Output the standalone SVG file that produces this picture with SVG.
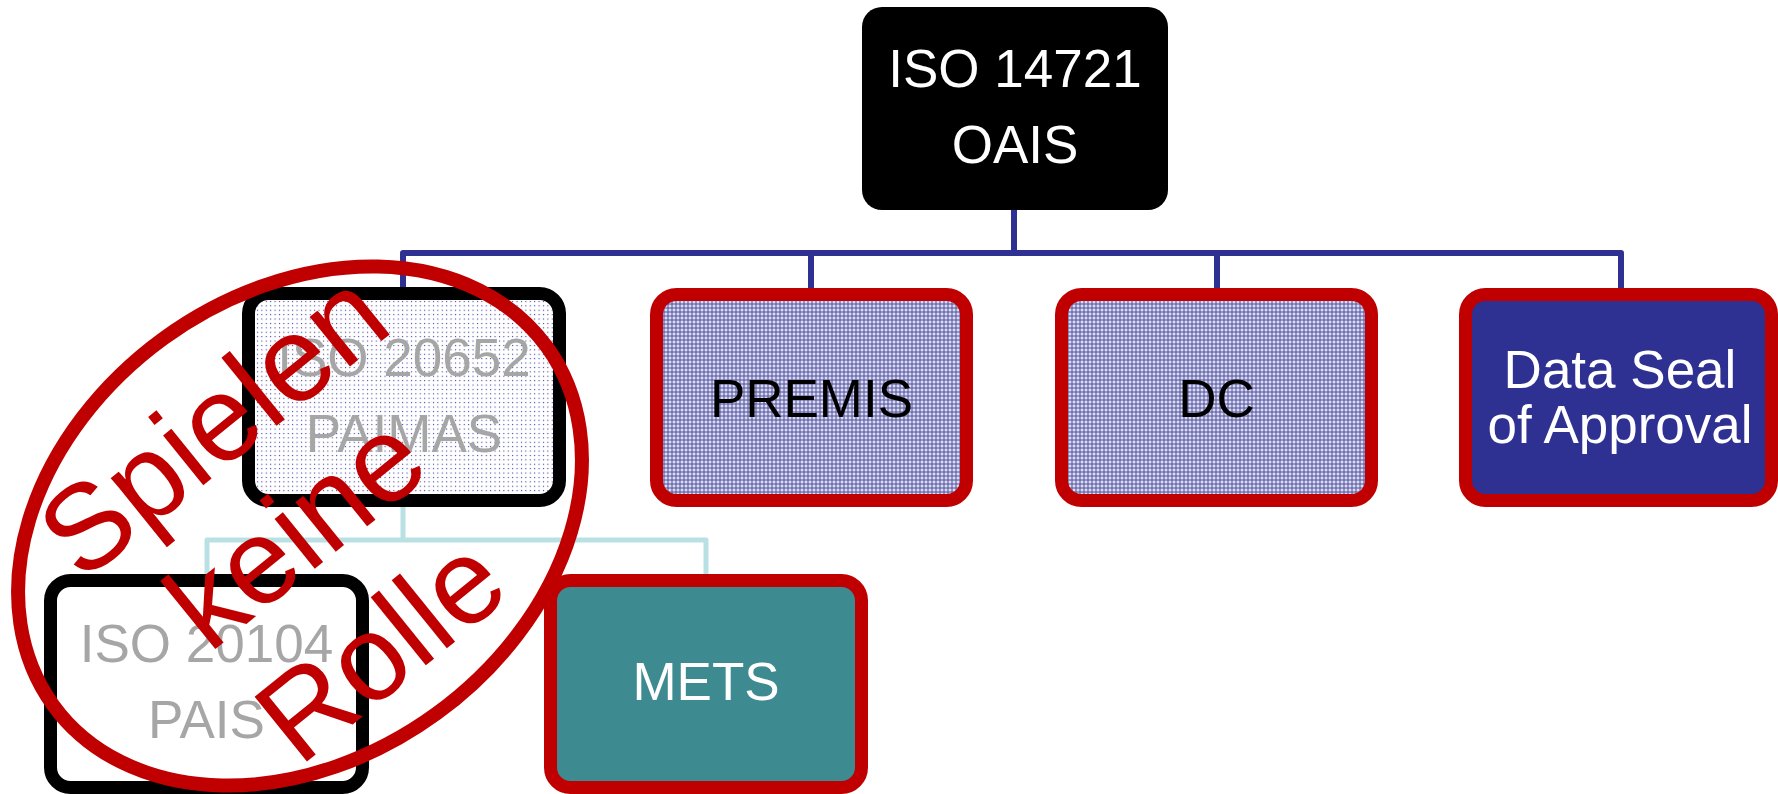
<svg xmlns="http://www.w3.org/2000/svg" width="1778" height="794" viewBox="0 0 1778 794">
<style>
text{font-family:"Liberation Sans",Arial,sans-serif;text-anchor:middle}
.lbl{font-size:53px}
.w{fill:#ffffff}
.k{fill:#000000}
.g{fill:#a6a6a6}
.box{stroke-width:13}
.blk{stroke:#000000}
.red{stroke:#c00000}
.bus{fill:none;stroke:#2e3192;stroke-width:6;stroke-linejoin:round}
.sub{fill:none;stroke:#b9e0e3;stroke-width:5;stroke-linejoin:round}
.stamp{fill:#c00000;font-size:121px}
</style>
<defs>
<pattern id="dots" width="4.4" height="4.4" patternUnits="userSpaceOnUse">
<rect width="4.4" height="4.4" fill="#ffffff"/>
<rect x="1.7" y="1.7" width="1.1" height="1.1" fill="#3a3aa0"/>
</pattern>
<pattern id="grid" width="4" height="4" patternUnits="userSpaceOnUse">
<rect width="4" height="4" fill="#7272b6"/>
<rect x="0.5" y="1.5" width="3" height="1" fill="#ffffff"/>
<rect x="1.5" y="0.5" width="1" height="3" fill="#ffffff"/>
</pattern>
</defs>
<g id="connectors">
<path class="bus" d="M1014 210V253M403 288V253H1621V288M811 253V288M1217 253V288"/>
<path class="sub" d="M403 507V540M207 574V540H706V574"/>
</g>
<g id="n-oais">
<rect x="862" y="7" width="306" height="203" rx="20" fill="#000000"/>
<text class="lbl w" x="1015" y="87">ISO 14721</text>
<text class="lbl w" x="1015" y="163">OAIS</text>
</g>
<g id="n-paimas">
<rect class="box blk" x="248.5" y="293.5" width="311" height="207" rx="20" fill="url(#dots)"/>
<text class="lbl g" x="404" y="376">ISO 20652</text>
<text class="lbl g" x="404" y="452">PAIMAS</text>
</g>
<g id="n-premis">
<rect class="box red" x="656.5" y="294.5" width="310" height="206" rx="20" fill="url(#grid)"/>
<text class="lbl k" x="811.5" y="417">PREMIS</text>
</g>
<g id="n-dc">
<rect class="box red" x="1061.5" y="294.5" width="310" height="206" rx="20" fill="url(#grid)"/>
<text class="lbl k" x="1216.5" y="417">DC</text>
</g>
<g id="n-dsa">
<rect class="box red" x="1465.5" y="294.5" width="306" height="206" rx="20" fill="#2e3192"/>
<text class="lbl w" x="1620" y="388">Data Seal</text>
<text class="lbl w" x="1620" y="443">of Approval</text>
</g>
<g id="n-pais">
<rect class="box blk" x="50.5" y="580.5" width="312" height="207" rx="20" fill="#ffffff"/>
<text class="lbl g" x="206.5" y="662">ISO 20104</text>
<text class="lbl g" x="206.5" y="738">PAIS</text>
</g>
<g id="n-mets">
<rect class="box red" x="550.5" y="580.5" width="311" height="207" rx="20" fill="#3e8a91"/>
<text class="lbl w" x="706" y="700">METS</text>
</g>
<g id="stamp">
<ellipse cx="300" cy="526" rx="305" ry="232" transform="rotate(-36 300 526)" fill="none" stroke="#c00000" stroke-width="14"/>
<g transform="translate(300 524) rotate(-39)">
<text class="stamp" x="-5" y="-91">Spielen</text>
<text class="stamp" x="-8" y="44">keine</text>
<text class="stamp" x="-16" y="189">Rolle</text>
</g>
</g>
</svg>
